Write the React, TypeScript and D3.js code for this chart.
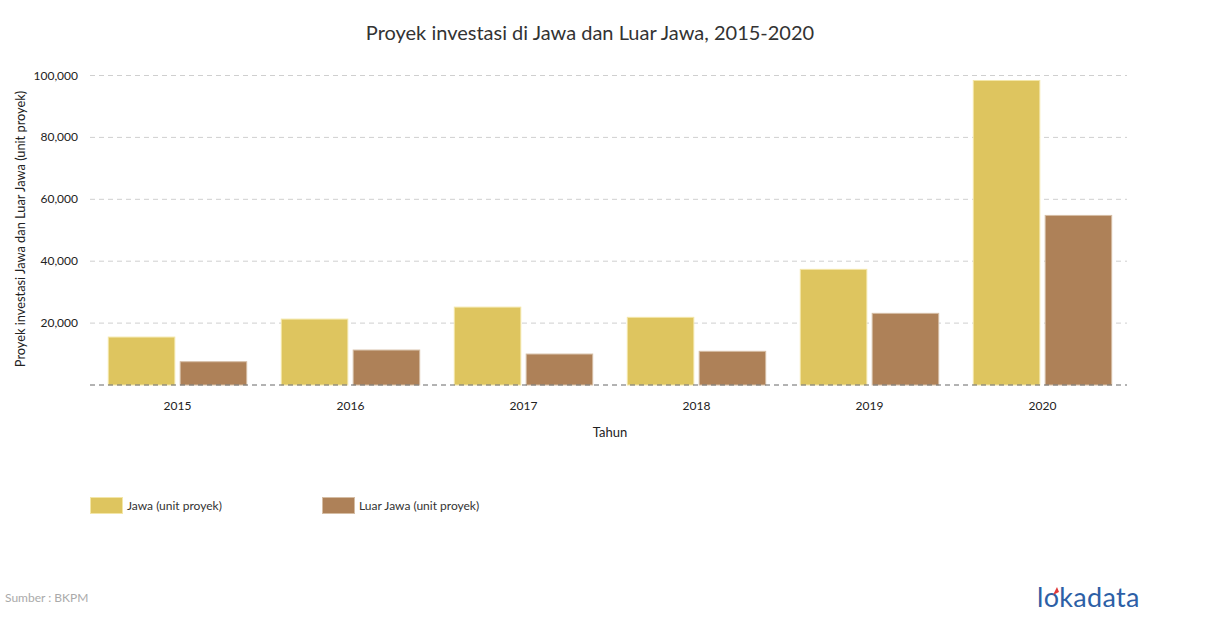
import React from "react";
import * as d3 from "d3";

const years = ["2015", "2016", "2017", "2018", "2019", "2020"];
const jawa = [15480, 21290, 25160, 21860, 37360, 98390];
const luarJawa = [7520, 11290, 10000, 10880, 23150, 54790];
const seriesNames = ["Jawa (unit proyek)", "Luar Jawa (unit proyek)"];
const yTicks = [20000, 40000, 60000, 80000, 100000];

const colors = ["#DEC55F", "#AE8158"];
const strokes = ["#F3E6A8", "#D5BDA4"];

export default function App() {
  const W = 1210, H = 628;
  const left = 90, right = 1127, top = 75.5, bottom = 385;
  const x0 = d3.scaleBand<string>().domain(years).range([left + 1, right + 2]).paddingInner(0.2).paddingOuter(0.1);
  const x1 = d3.scaleBand<string>().domain(seriesNames).range([0, x0.bandwidth()]).paddingInner(0.075);
  const y = d3.scaleLinear().domain([0, 100000]).range([bottom, top]);
  const fmt = d3.format(",");
  const series = [jawa, luarJawa];
  const font = "Lato, 'Open Sans', sans-serif";

  return (
    <svg width={W} height={H} style={{ position: "absolute", left: 0, top: 0, fontFamily: font }}>
      <rect width={W} height={H} fill="#fff" />
      <text x={590} y={40} textAnchor="middle" fontSize={20} fill="#333">
        Proyek investasi di Jawa dan Luar Jawa, 2015-2020
      </text>
      {yTicks.map((t) => (
        <g key={t}>
          <line x1={left} x2={right} y1={y(t)} y2={y(t)} stroke="#cfcfcf" strokeDasharray="5,4" />
          <text x={78} y={y(t) + 4} textAnchor="end" fontSize={12} fill="#222">
            {fmt(t)}
          </text>
        </g>
      ))}
      {years.map((yr, i) => (
        <g key={yr}>
          {series.map((s, j) => (
            <rect
              key={j}
              x={(x0(yr) as number) + (x1(seriesNames[j]) as number)}
              y={y(s[i])}
              width={x1.bandwidth()}
              height={y(0) - y(s[i])}
              fill={colors[j]}
              stroke={strokes[j]}
              strokeWidth={1}
            />
          ))}
          <text x={(x0(yr) as number) + x0.bandwidth() / 2} y={410} textAnchor="middle" fontSize={12} fill="#222">
            {yr}
          </text>
        </g>
      ))}
      <line x1={left} x2={right} y1={y(0)} y2={y(0)} stroke="#666" strokeDasharray="5,4" />
      <text x={610} y={437} textAnchor="middle" fontSize={13} fill="#222">Tahun</text>
      <text transform={`translate(25,229) rotate(-90)`} textAnchor="middle" fontSize={12.8} fill="#222">
        Proyek investasi Jawa dan Luar Jawa (unit proyek)
      </text>
      {seriesNames.map((n, j) => (
        <g key={n} transform={`translate(${90 + j * 232},497)`}>
          <rect x={0.5} y={0.5} width={32} height={16} fill={colors[j]} stroke={strokes[j]} />
          <text x={37} y={12.5} fontSize={12} fill="#333">{n}</text>
        </g>
      ))}
      <text x={5} y={602} fontSize={12} fill="#aaa">Sumber : BKPM</text>
      <g>
        <text x={1037} y={607} fontSize={27} fill="#2D5FA6" fontFamily="Lato, sans-serif" letterSpacing={0.3}>
          lokadata
        </text>
        <path d="M1053,595 L1057,587 L1059,592 Z" fill="#E03A3A" />
      </g>
    </svg>
  );
}
